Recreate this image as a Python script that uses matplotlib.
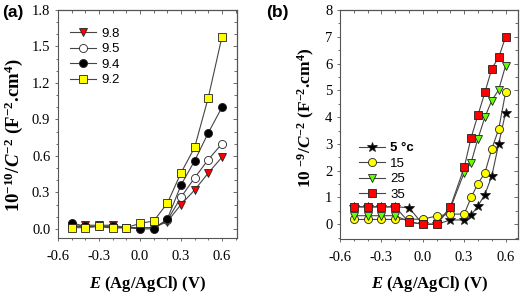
import numpy as np
import matplotlib.pyplot as plt
from matplotlib.ticker import MultipleLocator

# panel (a): pH series
xa = [-0.5, -0.4, -0.3, -0.2, -0.1, 0.0, 0.1, 0.2, 0.3, 0.4, 0.5, 0.6]
ph_labels = ["9.8", "9.5", "9.4", "9.2"]
a_98 = [0.02, 0.03, 0.03, 0.03, 0.01, 0.01, 0.01, 0.06, 0.20, 0.32, 0.46, 0.59]
a_95 = [0.02, 0.02, 0.02, 0.02, 0.01, 0.01, 0.01, 0.07, 0.26, 0.42, 0.57, 0.70]
a_94 = [0.05, 0.02, 0.02, 0.02, 0.01, 0.00, 0.00, 0.08, 0.36, 0.56, 0.79, 1.00]
a_92 = [0.01, 0.01, 0.02, 0.005, 0.01, 0.045, 0.065, 0.21, 0.46, 0.67, 1.08, 1.58]

# panel (b): temperature series
xb = [-0.5, -0.4, -0.3, -0.2, -0.1, 0.0, 0.1, 0.2, 0.3, 0.35, 0.4, 0.45, 0.5, 0.55, 0.6]
temp_labels = ["5 °c", "15", "25", "35"]
b_05 = [0.65, 0.65, 0.65, 0.65, 0.62, 0.0, 0.0, 0.16, 0.16, 0.34, 0.69, 1.11, 1.80, 3.00, 4.17]
b_15 = [0.18, 0.18, 0.18, 0.18, 0.19, 0.19, 0.31, 0.38, 0.38, 1.00, 1.52, 1.92, 2.81, 3.55, 4.92]
b_25 = [0.32, 0.32, 0.32, 0.32, 0.10, 0.00, 0.00, 0.60, 1.93, 2.30, 3.20, 4.00, 4.62, 5.02, 5.92]
b_35 = [0.65, 0.65, 0.65, 0.65, 0.08, 0.00, 0.00, 0.65, 2.12, 3.23, 4.08, 4.92, 5.81, 6.23, 6.99]

serif = "Liberation Serif"
sans = "Liberation Sans"
lc = "#454545"
gc = "#555555"

plt.rcParams["font.family"] = serif
plt.rcParams["axes.unicode_minus"] = False
plt.rcParams["mathtext.fontset"] = "custom"
plt.rcParams["mathtext.rm"] = "Liberation Serif:bold"
plt.rcParams["mathtext.it"] = "Liberation Serif:bold:italic"
plt.rcParams["mathtext.bf"] = "Liberation Serif:bold"

fig = plt.figure(figsize=(5.2, 2.93), dpi=100)
ax1 = fig.add_axes([58 / 520, 1 - 238 / 293, 179 / 520, 228 / 293])
ax2 = fig.add_axes([340 / 520, 1 - 239 / 293, 178 / 520, 229 / 293])


def style(ax, ymaj, ymin_loc):
    ax.xaxis.set_major_locator(MultipleLocator(0.3))
    ax.xaxis.set_minor_locator(MultipleLocator(0.1))
    ax.yaxis.set_major_locator(MultipleLocator(ymaj))
    ax.yaxis.set_minor_locator(MultipleLocator(ymin_loc))
    ax.tick_params(which="both", direction="out", width=0.6, color=gc, labelsize=10.5)
    ax.tick_params(axis="x", pad=6)
    ax.tick_params(axis="y", pad=3)
    ax.tick_params(which="major", length=2.5)
    ax.tick_params(which="minor", length=1.5)
    for sp in ax.spines.values():
        sp.set_color(gc)
        sp.set_linewidth(0.8)
    top = ax.secondary_xaxis("top")
    top.xaxis.set_major_locator(MultipleLocator(0.3))
    top.xaxis.set_minor_locator(MultipleLocator(0.1))
    top.tick_params(which="both", direction="in", labeltop=False, color=gc, width=0.6)
    top.tick_params(which="major", length=3)
    top.tick_params(which="minor", length=2)
    right = ax.secondary_yaxis("right")
    right.yaxis.set_major_locator(MultipleLocator(ymaj))
    right.yaxis.set_minor_locator(MultipleLocator(ymin_loc))
    right.tick_params(which="both", direction="in", labelright=False, color=gc, width=0.6)
    right.tick_params(which="major", length=3)
    right.tick_params(which="minor", length=2)


kw = dict(color=lc, lw=0.8, markersize=5.8, markeredgecolor="#222222", markeredgewidth=0.6)
legkw = dict(loc="upper left", frameon=False, prop={"family": sans, "size": 9.5},
             handlelength=2.0, labelspacing=0.25, handletextpad=0.35)

ax1.plot(xa, a_98, marker="v", markerfacecolor="#ff0000", label=ph_labels[0], **kw)
ax1.plot(xa, a_95, marker="o", markerfacecolor="white", label=ph_labels[1], **kw)
ax1.plot(xa, a_94, marker="o", markerfacecolor="black", label=ph_labels[2], **kw)
ax1.plot(xa, a_92, marker="s", markerfacecolor="#ffff00", label=ph_labels[3], **kw)
ax1.set_xlim(-0.6, 0.71)
ax1.set_ylim(-0.075, 1.8)
style(ax1, 0.3, 0.1)
ax1.set_xlabel(r"$E$ (Ag/AgCl) (V)", fontsize=12, fontweight="bold")
ax1.xaxis.set_label_coords(0.5, -0.16)
ax1.set_ylabel(r"10$^{-10}$/$C^{-2}$ (F$^{-2}$.cm$^{4}$)", fontsize=13.5, fontweight="bold")
ax1.yaxis.set_label_coords(-0.185, 0.45)
ax1.legend(bbox_to_anchor=(0.0, 0.975), **legkw)

ax2.plot(xb, b_05, marker="*", markerfacecolor="black", label=temp_labels[0],
         **{**kw, "markersize": 7})
ax2.plot(xb, b_15, marker="o", markerfacecolor="#ffff00", label=temp_labels[1], **kw)
ax2.plot(xb, b_25, marker="v", markerfacecolor="#66ff00", label=temp_labels[2], **kw)
ax2.plot(xb, b_35, marker="s", markerfacecolor="#ff0000", label=temp_labels[3], **kw)
ax2.set_xlim(-0.6, 0.69)
ax2.set_ylim(-0.55, 8)
style(ax2, 1, 0.5)
ax2.set_xlabel(r"$E$ (Ag/AgCl) (V)", fontsize=12, fontweight="bold")
ax2.xaxis.set_label_coords(0.5, -0.155)
ax2.set_ylabel(r"10 $^{-9}$/$C^{-2}$ (F$^{-2}$.cm$^{4}$)", fontsize=12.5, fontweight="bold")
ax2.yaxis.set_label_coords(-0.13, 0.53)
leg2 = ax2.legend(bbox_to_anchor=(0.04, 0.475), **legkw)
leg2.get_texts()[0].set_fontweight("bold")

fig.text(2 / 520, 1 - 12 / 293, "(a)", fontfamily=sans, fontweight="bold", fontsize=12.5, va="center")
fig.text(266 / 520, 1 - 12 / 293, "(b)", fontfamily=sans, fontweight="bold", fontsize=12.5, va="center")

fig.savefig("out.png", dpi=100)
